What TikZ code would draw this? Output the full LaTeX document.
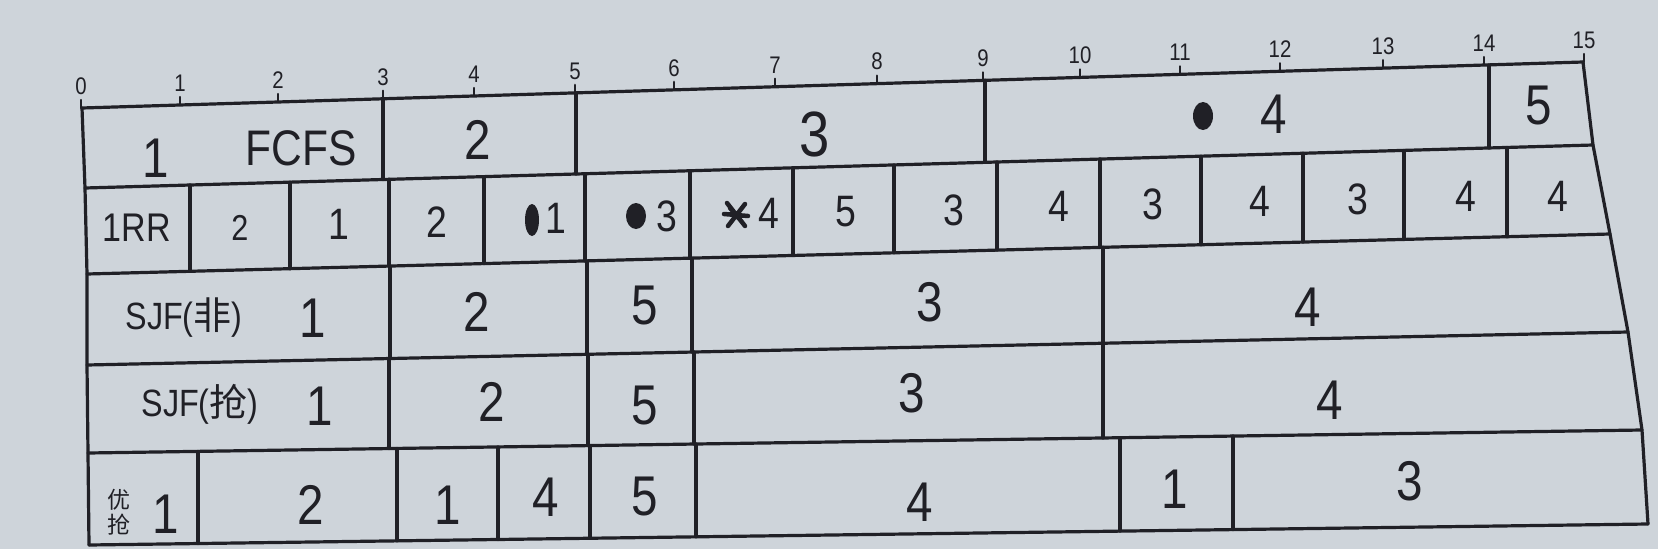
\documentclass[tikz,border=0pt]{standalone}
\usepackage{fontspec}
\setmainfont{Liberation Sans}[FakeStretch=0.85]
\newfontfamily\cjk{Noto Sans CJK SC}
\definecolor{paper}{RGB}{206,212,218}
\definecolor{ink}{RGB}{32,32,38}
\begin{document}
\begin{tikzpicture}[x=1pt,y=-1pt,
  declare function={
    ya(\t)=108-0.030646*(\t-82);
    yb(\t)=188-0.028515*(\t-85);
    yc(\t)=274-0.026264*(\t-87);
    yd(\t)=365-0.021415*(\t-87);
    ye(\t)=453-0.014801*(\t-88);
    yf(\t)=545-0.013470*(\t-89);
  },
  rule/.style={draw=ink,line width=3.2pt,line cap=round,line join=round},
  tk/.style={font=\fontsize{24}{26}\selectfont,text=ink,inner sep=0pt},
  big/.style={font=\fontsize{56}{60}\selectfont,text=ink,inner sep=0pt},
  mid/.style={font=\fontsize{44}{48}\selectfont,text=ink,inner sep=0pt},
  rowname/.style={font=\fontsize{38}{42}\selectfont,text=ink,inner sep=0pt},
  tiny/.style={font=\cjk\fontsize{23}{25}\selectfont,text=ink,inner sep=0pt,align=center},
]
\fill[paper] (0,0) rectangle (1658,549);
\useasboundingbox (0,0) rectangle (1658,549);

% horizontal lines
\draw[rule] (82,108) -- (1583,62);
\draw[rule] (85,188) -- (1593,145);
\draw[rule] (87,274) -- (1610,234);
\draw[rule] (87,365) -- (1628,332);
\draw[rule] (88,453) -- (1642,430);
\draw[rule] (89,545) -- (1648,524);
% outer edges
\draw[rule] (82,108) -- (85,188) -- (87,274) -- (87,365) -- (88,453) -- (89,545);
\draw[rule] (1583,62) -- (1593,145) -- (1610,234) -- (1628,332) -- (1642,430) -- (1648,524);

% dividers
\foreach \xx in {383,576,985,1489} \draw[rule] (\xx,{ya(\xx)}) -- (\xx,{yb(\xx)});
\foreach \xx in {190,290,389,484,585,690,793,894,997,1100,1201,1303,1404,1507}
  \draw[rule] (\xx,{yb(\xx)}) -- (\xx,{yc(\xx)});
\foreach \xx in {390,587,692,1103} \draw[rule] (\xx,{yc(\xx)}) -- (\xx,{yd(\xx)});
\foreach \xx in {389,588,694,1103} \draw[rule] (\xx,{yd(\xx)}) -- (\xx,{ye(\xx)});
\foreach \xx in {198,397,498,590,696,1120,1233} \draw[rule] (\xx,{ye(\xx)}) -- (\xx,{yf(\xx)});

% time axis ticks and labels
\foreach \i/\xx in {0/81,1/180,2/278,3/383,4/474,5/575,6/674,7/775,8/877,9/983,10/1080,11/1180,12/1280,13/1383,14/1484,15/1584}{
  \draw[rule,line width=2.4pt] (\xx,{ya(\xx)}) -- (\xx,{ya(\xx)-8});
  \node[tk] (t\i) at (\xx,{ya(\xx)-22}) {\i};
}

% row 1: FCFS
\node[big] (f1) at (156,158) {1};
\node[big,font=\fontsize{50}{54}\selectfont] (fn) at (301,148) {FCFS};
\node[big] (f2) at (478,140) {2};
\node[big,font=\fontsize{64}{68}\selectfont] (f3) at (815,134) {3};
\fill[ink] (1203,116) ellipse (10 and 14);
\node[big] (f4) at (1274,114) {4};
\node[big] (f5) at (1539,106) {5};

% row 2: RR
\node[mid,font=\fontsize{40}{44}\selectfont] (r0) at (137,228) {1RR};
\node[mid,font=\fontsize{36}{40}\selectfont] (r1) at (240,228) {2};
\node[mid] (r2) at (339,224) {1};
\node[mid] (r3) at (437,222) {2};
\fill[ink] (532,220) ellipse (7 and 16);
\node[mid] (r4) at (556,218) {1};
\fill[ink] (636,216) ellipse (10 and 13);
\node[mid] (r5) at (667,216) {3};
\draw[rule,line width=4.5pt] (727,203) -- (745,226) (745,204) -- (728,226) (724,214) -- (748,216) (730,208) -- (742,222);
\node[mid] (r6) at (769,213) {4};
\node[mid] (r7) at (846,212) {5};
\node[mid] (r8) at (954,210) {3};
\node[mid] (r9) at (1059,206) {4};
\node[mid] (r10) at (1153,204) {3};
\node[mid] (r11) at (1260,201) {4};
\node[mid] (r12) at (1358,199) {3};
\node[mid] (r13) at (1466,196) {4};
\node[mid] (r14) at (1558,196) {4};

% row 3: SJF non-preemptive
\node[rowname] (s0) at (184,318) {SJF({\cjk 非})};
\node[big] (s1) at (313,318) {1};
\node[big] (s2) at (477,312) {2};
\node[big] (s3) at (645,306) {5};
\node[big] (s4) at (930,302) {3};
\node[big] (s5) at (1308,307) {4};

% row 4: SJF preemptive
\node[rowname] (p0) at (200,404) {SJF({\cjk 抢})};
\node[big] (p1) at (320,406) {1};
\node[big] (p2) at (492,402) {2};
\node[big] (p3) at (645,406) {5};
\node[big] (p4) at (912,393) {3};
\node[big] (p5) at (1330,400) {4};

% row 5: priority preemptive
\node[tiny] (q0) at (119,512) {优\\抢};
\node[big] (q1) at (166,514) {1};
\node[big] (q2) at (311,505) {2};
\node[big] (q3) at (448,505) {1};
\node[big] (q4) at (546,497) {4};
\node[big] (q5) at (645,497) {5};
\node[big] (q6) at (920,502) {4};
\node[big] (q7) at (1175,489) {1};
\node[big] (q8) at (1410,481) {3};
\end{tikzpicture}
\end{document}
